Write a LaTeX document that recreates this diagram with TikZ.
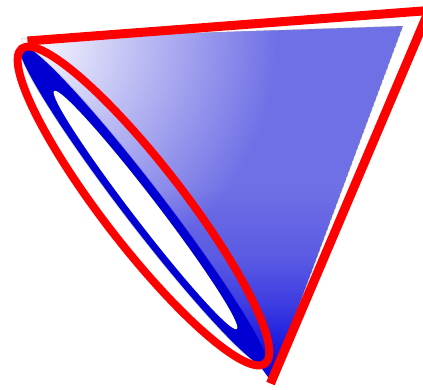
\documentclass[tikz,border=0pt]{standalone}
\usetikzlibrary{fadings}
\definecolor{redc}{RGB}{255,0,0}
\definecolor{blueline}{RGB}{0,0,210}
\definecolor{midb}{RGB}{112,112,230}
\definecolor{deepb}{RGB}{4,4,222}
\pgfdeclareverticalshading{vramp}{100bp}{color(0bp)=(white); color(25bp)=(white); color(29.8bp)=(white!95!black); color(36.9bp)=(white!74!black); color(44bp)=(white!47!black); color(53.6bp)=(white!20!black); color(67.9bp)=(black); color(75bp)=(black); color(100bp)=(black)}
\begin{tikzfadingfrompicture}[name=vfade]
  \shade[shading=vramp] (0,0) rectangle (2,2);
\end{tikzfadingfrompicture}
\begin{document}
\begin{tikzpicture}[x=1pt,y=-1pt,
  redline/.style={draw=redc, line width=9pt, line join=miter},
  redellipse/.style={draw=redc, line width=8pt},
  blueellipse/.style={fill=blueline},
  halo/.style={draw=blueline, opacity=0.2, line width=1.5pt},
  edgeline/.style={draw=black!40, line width=0.5pt, opacity=0.45}]
\fill[white] (0,0) rectangle (423,389);
\useasboundingbox (0,0) rectangle (423,389);
\coordinate (A) at (21,39);
\coordinate (B) at (403,26);
\coordinate (C) at (271,381);
\coordinate (R1) at (27.5,41);
\coordinate (R2) at (429,10.5);
\coordinate (R3) at (270.5,383.5);
% shaded triangle
\begin{scope}
  \clip (A) -- (B) -- (C) -- cycle;
  \fill[midb] (A) -- (B) -- (C) -- cycle;
  \shade[inner color=white, outer color=midb] (A) circle (255pt);
  \fill[deepb, path fading=vfade, fit fading=true] (0,170) rectangle (423,380);
\end{scope}
\draw[edgeline] (A) -- (B) -- (C);
% blue ring
\begin{scope}[shift={(143.5,206)}, rotate=-52.5]
  \coordinate (E) at (0,0);
  \fill[blueellipse] (E) ellipse [x radius=202pt, y radius=20.2pt];
  \draw[halo] (E) ellipse [x radius=202pt, y radius=20.2pt];
\end{scope}
\begin{scope}[shift={(145.5,210)}, rotate=-52.5]
  \coordinate (W) at (0,0);
  \fill[white] (W) ellipse [x radius=150pt, y radius=12.2pt];
\end{scope}
% red outline
\begin{scope}[shift={(143.5,206)}, rotate=-52.3]
  \coordinate (F) at (0,0);
  \draw[redellipse] (F) ellipse [x radius=199pt, y radius=40.5pt];
\end{scope}
\draw[redline] (R1) -- (R2) -- (R3);
\end{tikzpicture}
\end{document}
